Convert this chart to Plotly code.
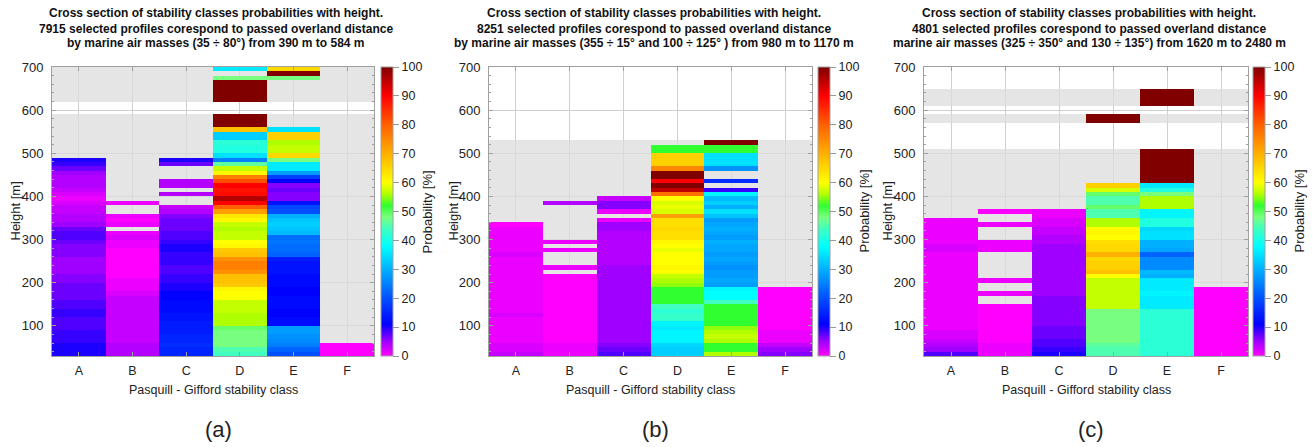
import plotly.graph_objects as go

# ---------------- data ----------------
CLASSES = ["A", "B", "C", "D", "E", "F"]
HEIGHT_BINS = list(range(30, 700, 10))   # lower edge of each 10 m bin (30 ... 690)
N = None

# panel (a)  values listed bottom -> top, starting at 30 m
A_a = [10,10,10,9,9,9,8, 8,8,9,9,8,8,7,7,7,7, 6,6,5,5,5,5,6,6,6,7, 8,8,7,5,4,4,3,3,2,1, 2,3,4,4,4,5,7,9,10]
B_a = [4,4,4,3,3,3,3, 3,3,3,3,3,3,3, 2,1,1, 1,0,0,0,0,0,0,0,1,1, 2,1, N, 1,0,1, N,N, 1]
C_a = [15,15,16,15,15,14,14, 14,13,13,12,12,12,11,11,10,10, 9,9,8,8,9,9,9,10,10,9,
       8,8,7,7,7,6,4,3, N,N, 4, N, 4,4, N,N,N, 7,10]
D_a = [44,45, 48,48,48,48,49, 56,56,56,57,57,57, 60,60,61, 67,68,68, 74,76,76,74, 68,67, 61,60,
       57,57,56,57, 61,63, 72, 80, 90, 96, 89,88,90, 82, 76, 61, 57, 46, 25, 35, 41,41,42, 33,33, 68,
       100,100,100, N,N,N, 100,100,100,100,100, 48, N, 36]
E_a = [20,22,25,26,27,28,28, 12,12,11,11,12,12,12,11,11,12,12,12,13,13,13,14, 22,23,23,24,23,
       31,32,33,32,30, 20,19, 13, 6,6,7,6, 11, 18, 28, 36,36, 48, 65, 57,57,56, 66,66, 35,
       N,N,N,N,N,N,N,N,N,N,N, 48, 100, 65]
F_a = [0,0,0]

# panel (b)
A_b = [3,2,2, 1,1,1,1,1,1,2,1,1,1,1,1,1,1,1,1,1,1,1,1,2,1,1,1,1,1,1,0]
B_b = [1,1,1,0,0,0,0,0,0,0,0,0,0,0,0,0,0,0,0, N, 1, N,N,N, 1, N, 1, N,N,N,N,N,N,N,N, 4]
C_b = [8,7,6, 5,5,5,5,5,5,5,5,5,5,5,5,5,5,5,5,5,5,4,4,4,4,4,4,4,4,5,5, 1, N, 1, 6,6, 3]
D_b = [33,33,34, 37,37,37,36,37, 43,43,42,44, 52,52,52,52, 55,56,57, 60,61,60,60,60,59,60,61,
       64,64,65,64,64, 72, 58,59,58,60, 78, 95, 100, 90, 100,100, 75, 66,66,66, 52,52]
E_b = [56, 52,52, 56,57,56,55, 52,52,52,52,52, 44, 38,38,37, 28,29,28,28,27,28,29,28,29,
       29,30,28,29,30,29,28, 32,35,30,33,31, 37, 9, N, 16, N,N, 27, 35,35,35, 52,52, 100]
F_b = [6,5,3,1,1,1,0,0,0,0,0,0,0,0,0,0]

# panel (c)
A_c = [8,5,4,3,2,2,1,1,1,1,1,1,1,1,1,1,1,1,1,1,1,1,1,1,2,2,1,1,1,1,1,1]
B_c = [1,1,1,0,0,0,0,0,0,0,0,0, N,N, 1, N,N, 1, N,N,N,N,N,N, 1,1,1, N,N,N, 1, N,N, 0]
C_c = [10,9,8,8,7,7,7, 6,6,6,6,6,6,6,5,5,5, 5,5,5,5,5,5,5,5,5,4, 4,3,3,2,2,1,1]
D_c = [45,45,46, 48,48,48,48,48,48,48,48, 57,57,57,57,57,57,57, 60, 68, 66,66,65, 70, 65,65, 64,
       60,61,60, 56,56, 45,45, 49, 45,45, 49, 58, 66, N,N,N,N,N,N,N,N,N,N,N,N,N,N, 100,100]
E_c = [42,42,42,42,42,42,42,42,42,42,42, 36,36,36,37,36,36,36, 30,31, 26,26,26, 22, 29,30,30,
       35,35,34, 41,41, 37,37, 56,56,56, 48, 41, 36, 100,100,100,100,100,100,100,100,
       N,N,N,N,N,N,N,N,N,N, 100,100,100,100]
F_c = [0]*16

TITLES = [
    ["Cross section of stability classes probabilities with height.",
     "7915 selected profiles corespond to passed overland distance",
     "by marine air masses (35 \u00f7 80\u00b0) from 390 m to 584 m"],
    ["Cross section of stability classes probabilities with height.",
     "8251 selected profiles corespond to passed overland distance",
     "by marine air masses (355 \u00f7 15\u00b0 and 100 \u00f7 125\u00b0 ) from 980 m to 1170 m"],
    ["Cross section of stability classes probabilities with height.",
     "4801 selected profiles corespond to passed overland distance",
     "marine air masses (325 \u00f7 350\u00b0 and 130 \u00f7 135\u00b0) from 1620 m to 2480 m"],
]
PANEL_LABELS = ["(a)", "(b)", "(c)"]
PANEL_DATA = [
    [A_a, B_a, C_a, D_a, E_a, F_a],
    [A_b, B_b, C_b, D_b, E_b, F_b],
    [A_c, B_c, C_c, D_c, E_c, F_c],
]

# ---------------- layout helpers ----------------
W, H = 1315, 447
FONT = "Liberation Sans, Arial, Helvetica, sans-serif"
PLOT_TOP, PLOT_BOT = 67, 356
PANELS_PX = [(52, 374, 381), (489, 812, 818), (924, 1248, 1253)]
YLABEL_X = [15, 453, 887]
CBTITLE_DX = 46

COLORSCALE = [
    [0.00, "#ff00ff"], [0.05, "#a000ff"], [0.11, "#0000ff"], [0.20, "#0050ff"],
    [0.30, "#00b0ff"], [0.38, "#00ffff"], [0.44, "#40ffc0"], [0.48, "#78ff80"],
    [0.52, "#30ff30"], [0.56, "#b0ff00"], [0.60, "#ffff00"], [0.70, "#ffb000"],
    [0.80, "#ff6000"], [0.90, "#ff0000"], [1.00, "#800000"],
]

def px(x):
    return x / W

def py(y):
    return 1 - y / H

y_centers = [h + 5 for h in HEIGHT_BINS]

fig = go.Figure()
annotations = []
layout_axes = {}
TXT = "#222"

for k, cols in enumerate(PANEL_DATA):
    sfx = "" if k == 0 else str(k + 1)
    xref, yref = "x" + sfx, "y" + sfx
    z = []
    for i in range(len(HEIGHT_BINS)):
        z.append([col[i] if i < len(col) else None for col in cols])
    gray = [[1 if any(v is not None for v in row) else None for _ in CLASSES] for row in z]

    fig.add_trace(go.Heatmap(
        x=CLASSES, y=y_centers, z=gray, xaxis=xref, yaxis=yref,
        colorscale=[[0, "#dcdcdc"], [1, "#dcdcdc"]], showscale=False,
        opacity=0.75, hoverinfo="skip", zmin=0, zmax=1,
    ))
    x0, x1, cbx = PANELS_PX[k]
    fig.add_trace(go.Heatmap(
        x=CLASSES, y=y_centers, z=z, xaxis=xref, yaxis=yref,
        colorscale=COLORSCALE, zmin=0, zmax=100,
        colorbar=dict(
            x=px(cbx), xanchor="left", y=py((PLOT_TOP + PLOT_BOT) / 2), yanchor="middle",
            len=PLOT_BOT - PLOT_TOP, lenmode="pixels", thickness=12, thicknessmode="pixels",
            xpad=0, ypad=0, outlinewidth=1, outlinecolor="#a0a0a0",
            tickvals=list(range(0, 101, 10)), ticks="outside", ticklen=6, tickcolor="#999",
            tickfont=dict(size=12.5, color=TXT, family=FONT),
        ),
    ))

    layout_axes["xaxis" + sfx] = dict(
        domain=[px(x0), px(x1)], anchor=yref, type="category", automargin=False,
        categoryorder="array", categoryarray=CLASSES, range=[-0.5, 5.5],
        showline=True, linecolor="#a0a0a0", linewidth=1, mirror="ticks",
        ticks="inside", ticklen=4, tickcolor="#a0a0a0",
        showgrid=True, gridcolor="#cfcfcf", gridwidth=1, zeroline=False,
        tickfont=dict(size=12.5, color=TXT, family=FONT), ticklabelstandoff=3,
    )
    layout_axes["yaxis" + sfx] = dict(
        domain=[py(PLOT_BOT), py(PLOT_TOP)], anchor=xref, range=[30, 700], automargin=False,
        tickvals=list(range(100, 701, 100)),
        showline=True, linecolor="#a0a0a0", linewidth=1, mirror="ticks",
        ticks="inside", ticklen=4, tickcolor="#a0a0a0",
        minor=dict(dtick=20, ticks="inside", ticklen=2, tickcolor="#a0a0a0", showgrid=False),
        showgrid=True, gridcolor="#cfcfcf", gridwidth=1, zeroline=False,
        tickfont=dict(size=13, color=TXT, family=FONT), ticklabelstandoff=5,
    )

    xc = (x0 + x1) / 2
    for j, line in enumerate(TITLES[k]):
        annotations.append(dict(
            text="<b>" + line + "</b>", x=px(xc + 3), y=py([13, 29, 43][j]),
            xref="paper", yref="paper", xanchor="center", yanchor="middle",
            showarrow=False, font=dict(size=12, color="#111", family=FONT),
        ))
    annotations.append(dict(
        text="Pasquill - Gifford stability class", x=px(xc), y=py(390),
        xref="paper", yref="paper", xanchor="center", yanchor="middle",
        showarrow=False, font=dict(size=12.5, color=TXT, family=FONT),
    ))
    annotations.append(dict(
        text="Height [m]", x=px(YLABEL_X[k]), y=py((PLOT_TOP + PLOT_BOT) / 2),
        xref="paper", yref="paper", xanchor="center", yanchor="middle", textangle=-90,
        showarrow=False, font=dict(size=13, color=TXT, family=FONT),
    ))
    annotations.append(dict(
        text="Probability [%]", x=px(cbx + CBTITLE_DX), y=py((PLOT_TOP + PLOT_BOT) / 2),
        xref="paper", yref="paper", xanchor="center", yanchor="middle", textangle=-90,
        showarrow=False, font=dict(size=13, color=TXT, family=FONT),
    ))
    annotations.append(dict(
        text=PANEL_LABELS[k], x=px(xc + 5), y=py(429),
        xref="paper", yref="paper", xanchor="center", yanchor="middle",
        showarrow=False, font=dict(size=22, color=TXT, family=FONT),
    ))

fig.update_layout(
    width=W, height=H, margin=dict(l=0, r=0, t=0, b=0, autoexpand=False),
    paper_bgcolor="white", plot_bgcolor="white",
    font=dict(family=FONT), annotations=annotations, showlegend=False,
    **layout_axes,
)

fig.write_html("out.html")
